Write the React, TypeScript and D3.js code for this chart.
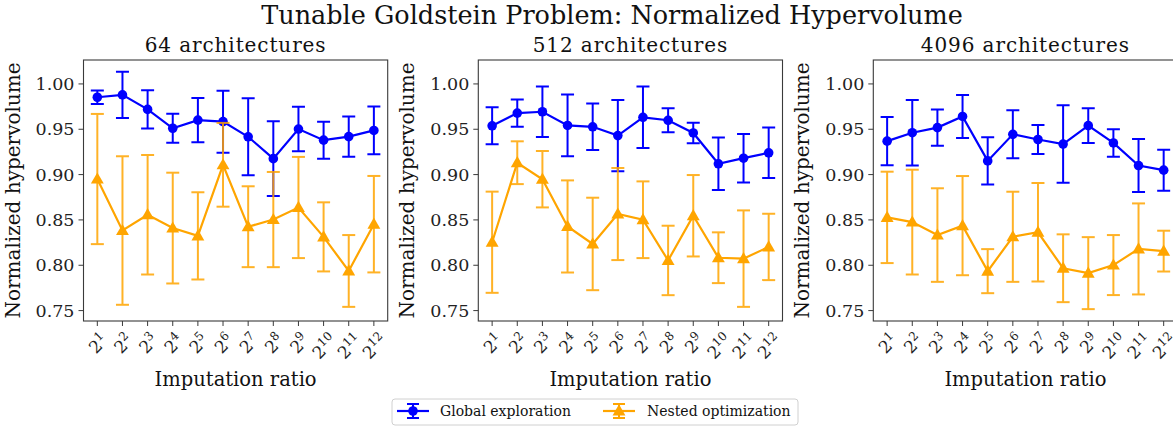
import React from "react";
import * as d3 from "d3";

// Imputation ratio exponents (ratio = 2^k)
const exponents = [1, 2, 3, 4, 5, 6, 7, 8, 9, 10, 11, 12];

const panelTitles = ["64 architectures", "512 architectures", "4096 architectures"];

// Global exploration: mean and standard deviation per imputation ratio
const global64Mean = [0.9853, 0.9879, 0.9719, 0.9511, 0.9601, 0.9584, 0.9417, 0.9176, 0.9502, 0.938, 0.9419, 0.9487];
const global64Err = [0.0074, 0.0254, 0.0212, 0.0159, 0.0245, 0.0342, 0.0425, 0.0413, 0.0245, 0.0204, 0.0221, 0.0264];
const global512Mean = [0.9538, 0.9678, 0.9693, 0.9542, 0.9527, 0.943, 0.9632, 0.9599, 0.9459, 0.9119, 0.9181, 0.924];
const global512Err = [0.0204, 0.0149, 0.0278, 0.0341, 0.0256, 0.0394, 0.0339, 0.0133, 0.0114, 0.0289, 0.0267, 0.0278];
const global4096Mean = [0.9369, 0.9462, 0.9518, 0.9641, 0.9151, 0.9444, 0.9387, 0.9337, 0.954, 0.9349, 0.91, 0.9049];
const global4096Err = [0.0267, 0.0361, 0.0199, 0.0237, 0.026, 0.0265, 0.016, 0.0427, 0.0191, 0.0151, 0.0293, 0.0226];

// Nested optimization: mean and standard deviation per imputation ratio
const nested64Mean = [0.8951, 0.8383, 0.8557, 0.841, 0.8324, 0.9108, 0.8425, 0.8504, 0.8637, 0.8313, 0.7937, 0.8453];
const nested64Err = [0.0718, 0.0819, 0.0659, 0.0611, 0.0481, 0.0462, 0.0446, 0.0525, 0.0558, 0.0381, 0.0396, 0.0532];
const nested512Mean = [0.8254, 0.9131, 0.8949, 0.8428, 0.8235, 0.8565, 0.8502, 0.8053, 0.8546, 0.8083, 0.8073, 0.8202];
const nested512Err = [0.0558, 0.0236, 0.0311, 0.0508, 0.051, 0.0508, 0.0423, 0.0383, 0.0449, 0.028, 0.0532, 0.0366];
const nested4096Mean = [0.8528, 0.8476, 0.8333, 0.8437, 0.7935, 0.8314, 0.8364, 0.7967, 0.7913, 0.8002, 0.818, 0.8156];
const nested4096Err = [0.0504, 0.0578, 0.0516, 0.0547, 0.0243, 0.0497, 0.0543, 0.0374, 0.0397, 0.0331, 0.0502, 0.0225];

const yTicks = [0.75, 0.8, 0.85, 0.9, 0.95, 1.0];

const BLUE = "#0000ff";
const ORANGE = "#ffa500";
const FONT = "'DejaVu Serif', serif";

type Series = { mean: number[]; err: number[] };
const panels: { title: string; global: Series; nested: Series }[] = [
  { title: panelTitles[0], global: { mean: global64Mean, err: global64Err }, nested: { mean: nested64Mean, err: nested64Err } },
  { title: panelTitles[1], global: { mean: global512Mean, err: global512Err }, nested: { mean: nested512Mean, err: nested512Err } },
  { title: panelTitles[2], global: { mean: global4096Mean, err: global4096Err }, nested: { mean: nested4096Mean, err: nested4096Err } },
];

const W = 1173;
const H = 428;
const axLefts = [83.5, 478.3, 873.3];
const axWidth = 304.2;
const axTop = 60;
const axBottom = 321;

// shared y range: data extent padded by 5%
const allLow: number[] = [];
const allHigh: number[] = [];
panels.forEach((p) =>
  [p.global, p.nested].forEach((s) =>
    s.mean.forEach((m, i) => {
      allLow.push(m - s.err[i]);
      allHigh.push(m + s.err[i]);
    })
  )
);
const yMin = d3.min(allLow)!;
const yMax = d3.max(allHigh)!;
const yPad = (yMax - yMin) * 0.05;
const y = d3.scaleLinear().domain([yMin - yPad, yMax + yPad]).range([axBottom, axTop]);

const triangle = d3.symbol().type(d3.symbolTriangle).size(72)()!;

function ErrorSeries({ s, x, color, marker, barOpacity }: { s: Series; x: d3.ScaleLinear<number, number>; color: string; marker: "circle" | "triangle"; barOpacity: number }) {
  const line = d3
    .line<number>()
    .x((_, i) => x(exponents[i]))
    .y((d) => y(d));
  const cap = 6.5;
  return (
    <g>
      <g stroke={color} strokeWidth={2} opacity={barOpacity}>
        {s.mean.map((m, i) => {
          const cx = x(exponents[i]);
          const y0 = y(m - s.err[i]);
          const y1 = y(m + s.err[i]);
          return (
            <g key={i}>
              <line x1={cx} x2={cx} y1={y0} y2={y1} />
              <line x1={cx - cap} x2={cx + cap} y1={y0} y2={y0} />
              <line x1={cx - cap} x2={cx + cap} y1={y1} y2={y1} />
            </g>
          );
        })}
      </g>
      <path d={line(s.mean)!} fill="none" stroke={color} strokeWidth={2.2} />
      {s.mean.map((m, i) =>
        marker === "circle" ? (
          <circle key={i} cx={x(exponents[i])} cy={y(m)} r={4.8} fill={color} />
        ) : (
          <path key={i} d={triangle} transform={`translate(${x(exponents[i])},${y(m) + 0.8})`} fill={color} />
        )
      )}
    </g>
  );
}

function Panel({ idx }: { idx: number }) {
  const p = panels[idx];
  const left = axLefts[idx];
  const x = d3
    .scaleLinear()
    .domain([1 - 0.55, 12 + 0.55])
    .range([left, left + axWidth]);
  const cx = left + axWidth / 2;
  return (
    <g>
      <text x={cx} y={52} textAnchor="middle" fontSize={20} letterSpacing={0.9} fontFamily={FONT} fill="#111">
        {p.title}
      </text>
      <g clipPath={`url(#clip${idx})`}>
        <ErrorSeries s={p.global} x={x} color={BLUE} marker="circle" barOpacity={1} />
        <ErrorSeries s={p.nested} x={x} color={ORANGE} marker="triangle" barOpacity={0.85} />
      </g>
      <clipPath id={`clip${idx}`}>
        <rect x={left} y={axTop - 10} width={axWidth} height={axBottom - axTop + 10} />
      </clipPath>
      <rect x={left} y={axTop} width={axWidth} height={axBottom - axTop} fill="none" stroke="#3a3a3a" strokeWidth={1.1} />
      {yTicks.map((t) => (
        <g key={t}>
          <line x1={left - 5} x2={left} y1={y(t)} y2={y(t)} stroke="#3a3a3a" strokeWidth={1} />
          <text x={left - 9} y={y(t)} dy="0.35em" textAnchor="end" fontSize={17.5} fontFamily={FONT} fill="#222">
            {d3.format(".2f")(t)}
          </text>
        </g>
      ))}
      {exponents.map((k) => {
        const tx = x(k);
        const label = String(k);
        const w = 11 + label.length * 8;
        const h = 17;
        const off = (w + h) / (2 * Math.SQRT2);
        return (
          <g key={k}>
            <line x1={tx} x2={tx} y1={axBottom} y2={axBottom + 5} stroke="#3a3a3a" strokeWidth={1} />
            <text
              transform={`translate(${tx + 1},${axBottom + 10 + off}) rotate(-45)`}
              dy="0.35em"
              textAnchor="middle"
              fontSize={17}
              fontFamily={FONT}
              fill="#222"
            >
              2
              <tspan fontSize={12} dy={-7}>
                {label}
              </tspan>
            </text>
          </g>
        );
      })}
      <text x={cx} y={386} textAnchor="middle" fontSize={19.5} fontFamily={FONT} fill="#111">
        Imputation ratio
      </text>
      <text
        transform={`translate(${left - 64},${(axTop + axBottom) / 2}) rotate(-90)`}
        textAnchor="middle"
        fontSize={20}
        fontFamily={FONT}
        fill="#111"
      >
        Normalized hypervolume
      </text>
    </g>
  );
}

function LegendHandle({ x0, cy, color, marker }: { x0: number; cy: number; color: string; marker: "circle" | "triangle" }) {
  const mid = x0 + 16;
  return (
    <g>
      <line x1={x0} x2={x0 + 32} y1={cy} y2={cy} stroke={color} strokeWidth={2.2} />
      <line x1={mid} x2={mid} y1={cy - 7} y2={cy + 7} stroke={color} strokeWidth={2} />
      <line x1={mid - 6} x2={mid + 6} y1={cy - 7} y2={cy - 7} stroke={color} strokeWidth={2} />
      <line x1={mid - 6} x2={mid + 6} y1={cy + 7} y2={cy + 7} stroke={color} strokeWidth={2} />
      {marker === "circle" ? (
        <circle cx={mid} cy={cy} r={4.8} fill={color} />
      ) : (
        <path d={triangle} transform={`translate(${mid},${cy + 0.8})`} fill={color} />
      )}
    </g>
  );
}

export default function App() {
  const legendY = 411;
  return (
    <svg width={W} height={H} style={{ position: "absolute", left: 0, top: 0, background: "#fff" }}>
      <rect width={W} height={H} fill="#fff" />
      <text x={612} y={24} textAnchor="middle" fontSize={25.5} fontFamily={FONT} fill="#111">
        Tunable Goldstein Problem: Normalized Hypervolume
      </text>
      {panels.map((_, i) => (
        <Panel key={i} idx={i} />
      ))}
      <rect x={392} y={399} width={406} height={26} rx={3} fill="#fff" fillOpacity={0.8} stroke="#d0d0d0" strokeWidth={1} />
      <LegendHandle x0={397} cy={legendY} color={BLUE} marker="circle" />
      <text x={440} y={legendY} dy="0.35em" fontSize={14} fontFamily={FONT} fill="#111">
        Global exploration
      </text>
      <LegendHandle x0={603} cy={legendY} color={ORANGE} marker="triangle" />
      <text x={647} y={legendY} dy="0.35em" fontSize={14} fontFamily={FONT} fill="#111">
        Nested optimization
      </text>
    </svg>
  );
}
